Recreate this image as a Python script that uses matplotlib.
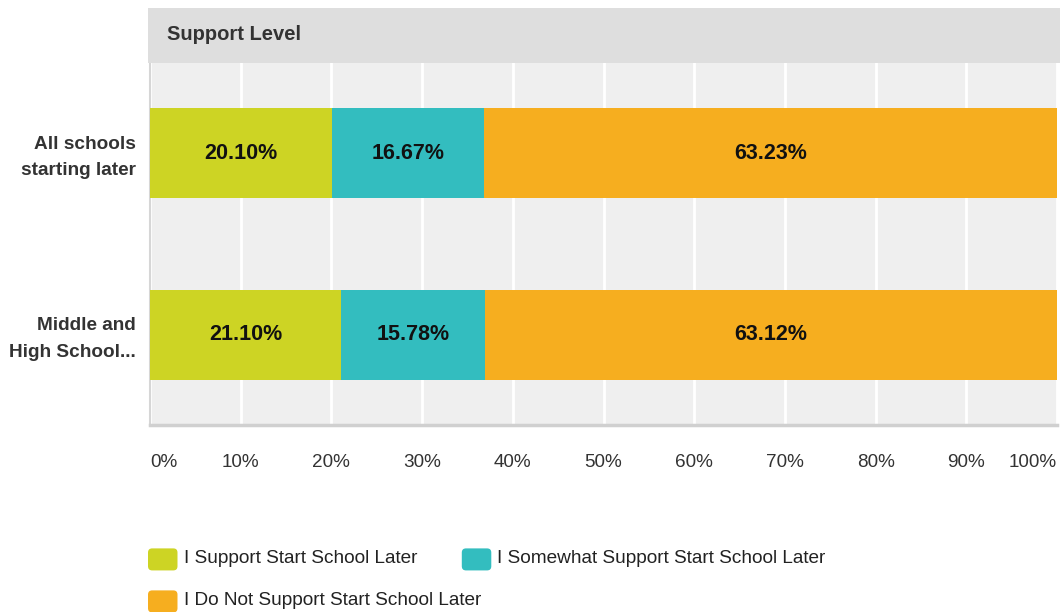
import matplotlib.pyplot as plt
from matplotlib.patches import Rectangle, FancyBboxPatch
from matplotlib.legend_handler import HandlerPatch
from matplotlib.transforms import ScaledTranslation
import numpy as np

# survey data
questions = ["All schools\nstarting later", "Middle and\nHigh School..."]
levels = ["I Support Start School Later",
          "I Somewhat Support Start School Later",
          "I Do Not Support Start School Later"]
support = [20.10, 21.10]
somewhat = [16.67, 15.78]
not_support = [63.23, 63.12]
ticks = [0, 10, 20, 30, 40, 50, 60, 70, 80, 90, 100]

colors = ["#cdd424", "#33bdbf", "#f6ae1f"]

plt.rcParams['font.family'] = ['Liberation Sans', 'DejaVu Sans']


# rounded legend boxes
class RoundHandler(HandlerPatch):
    def create_artists(self, legend, orig_handle, xdescent, ydescent, width, height,
                       fontsize, trans):
        p = FancyBboxPatch((-xdescent, -ydescent - 3), width, height + 2,
                           boxstyle="round,pad=0,rounding_size=3",
                           facecolor=orig_handle.get_facecolor(), edgecolor="none",
                           transform=trans)
        return [p]


fig = plt.figure(figsize=(10.6, 6.12), dpi=100)

# grey header band
fig.patches.append(Rectangle((148 / 1060, 1 - 63 / 612), (1060 - 148) / 1060, 55 / 612,
                             transform=fig.transFigure, facecolor="#dedede",
                             edgecolor="none", zorder=0))
fig.text(167 / 1060, 1 - 35 / 612, "Support Level", fontsize=14.5, fontweight="bold",
         color="#333333", va="center", ha="left")

ax = fig.add_axes([150 / 1060, 1 - 425 / 612, 907 / 1060, 362 / 612])
ax.set_facecolor("#efefef")

y = np.arange(len(questions))
series = [support, somewhat, not_support]
left = np.zeros(len(questions))
bars = []
for vals, col, lab in zip(series, colors, levels):
    b = ax.barh(y, vals, left=left, height=0.495, color=col, label=lab, zorder=3)
    bars.append(b)
    for yi, v, l in zip(y, vals, left):
        ax.text(l + v / 2, yi, f"{v:.2f}%", ha="center", va="center",
                fontsize=15.5, fontweight="bold", color="#111111", zorder=4)
    left = left + np.array(vals)

ax.set_xlim(0, 100)
ax.set_ylim(1.495, -0.495)
ax.set_xticks(ticks)
ax.set_xticklabels([f"{t}%" for t in ticks], fontsize=13.6, color="#333333")
labs = ax.get_xticklabels()
labs[0].set_horizontalalignment("left")
labs[-1].set_horizontalalignment("right")
ax.tick_params(axis="x", length=0, pad=21)
ax.set_yticks(y)
ax.set_yticklabels(questions, fontsize=13.7, fontweight="bold", color="#333333",
                   linespacing=1.7)
ax.tick_params(axis="y", length=0, pad=10)
# nudge the row labels up a little
for t in ax.get_yticklabels():
    t.set_transform(t.get_transform() + ScaledTranslation(0, 0.025, fig.dpi_scale_trans))
ax.grid(axis="x", color="white", linewidth=2, zorder=1)
ax.set_axisbelow(True)
for s in ["top", "right"]:
    ax.spines[s].set_visible(False)
ax.spines["left"].set_color("#d6d6d6")
ax.spines["left"].set_linewidth(1.5)
ax.spines["bottom"].set_color("#d0d0d0")
ax.spines["bottom"].set_linewidth(2.5)

# legend laid out as a flowing row, then a second row
leg_kw = dict(loc="upper left", frameon=False, fontsize=13.7, handlelength=1.55,
              handleheight=1.18, handletextpad=0.32, columnspacing=2.35,
              borderpad=0, borderaxespad=0, labelcolor="#222222")
row1 = [bars[0][0], bars[1][0]]
row2 = [bars[2][0]]
fig.legend(row1, levels[:2], ncol=2, bbox_to_anchor=(148 / 1060, 1 - 547 / 612),
           handler_map={h: RoundHandler() for h in row1}, **leg_kw)
fig.legend(row2, levels[2:], ncol=1, bbox_to_anchor=(148 / 1060, 1 - 589 / 612),
           handler_map={h: RoundHandler() for h in row2}, **leg_kw)

fig.savefig("out.png", dpi=100)
